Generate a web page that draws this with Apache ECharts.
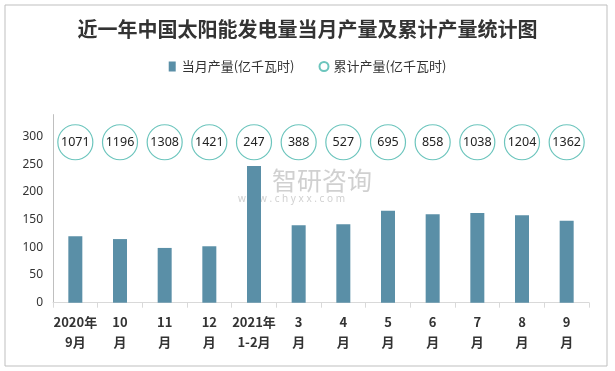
<!DOCTYPE html>
<html><head><meta charset="utf-8">
<script src="https://cdn.jsdelivr.net/npm/echarts@6/dist/echarts.min.js"></script>
<style>html,body{margin:0;padding:0;background:#fff}#c{width:615px;height:371px}</style>
</head><body><div id="c"></div>
<script>
const categories = ['2020年\n9月','10\n月','11\n月','12\n月','2021年\n1-2月','3\n月','4\n月','5\n月','6\n月','7\n月','8\n月','9\n月'];
const monthly = [120, 115, 99, 102, 247, 140, 142, 166, 160, 162, 158, 148];
const cumulative = [1071, 1196, 1308, 1421, 247, 388, 527, 695, 858, 1038, 1204, 1362];
const yTicks = [0, 50, 100, 150, 200, 250, 300];

const circleRow = 290;
const chart = echarts.init(document.getElementById('c'));
chart.setOption({
  backgroundColor: '#fff',
  animation: false,
  title: {
    text: '近一年中国太阳能发电量当月产量及累计产量统计图',
    left: 'center', top: 14,
    textStyle: {fontFamily: 'Noto Sans CJK SC', fontSize: 20, fontWeight: 'bold', color: '#333'}
  },
  legend: {
    top: 55, left: 'center', itemGap: 24, itemWidth: 9, itemHeight: 10,
    textStyle: {fontFamily: 'Noto Sans CJK SC', fontSize: 13, color: '#333'},
    data: [
      {name: '当月产量(亿千瓦时)', icon: 'path://M1,0H8V10H1Z'},
      {name: '累计产量(亿千瓦时)', icon: 'circle'}
    ]
  },
  grid: {left: 53, right: 26, top: 114.6, bottom: 68.3},
  xAxis: {
    type: 'category', data: categories, boundaryGap: true,
    axisLine: {lineStyle: {color: '#d9d9d9'}},
    axisTick: {show: true, length: 5, lineStyle: {color: '#d9d9d9'}},
    axisLabel: {interval: 0, fontFamily: 'Noto Sans CJK SC', fontSize: 13, fontWeight: 'bold', color: '#333', lineHeight: 20, margin: 9}
  },
  yAxis: {
    type: 'value', min: 0, max: 340, interval: 50,
    axisLine: {show: true, lineStyle: {color: '#bfbfbf'}},
    axisTick: {show: false},
    splitLine: {show: false},
    axisLabel: {showMaxLabel: false, fontFamily: 'Noto Sans', fontSize: 12, color: '#333', margin: 10,
      formatter: v => yTicks.includes(v) ? String(v) : ''}
  },
  graphic: [
    {type: 'rect', shape: {x: 5, y: 5, width: 602, height: 361}, style: {fill: 'none', stroke: '#bfbfbf', lineWidth: 1}, z: 100},
    {type: 'text', left: 272, top: 168, style: {text: '智研咨询', fontFamily: 'Noto Sans CJK SC', fontSize: 25, fill: 'rgba(170,170,170,0.55)'}, z: 0},
    {type: 'text', left: 238, top: 194, style: {text: 'w w w . c h y x x . c o m', fontFamily: 'Noto Sans', fontSize: 10, fill: 'rgba(170,170,170,0.55)'}, z: 0}
  ],
  series: [
    {
      name: '当月产量(亿千瓦时)', type: 'bar', data: monthly, barWidth: 14,
      itemStyle: {color: '#5a8fa7'}, z: 5
    },
    {
      name: '累计产量(亿千瓦时)', type: 'scatter',
      data: cumulative.map(() => circleRow),
      symbol: 'circle', symbolSize: 35,
      itemStyle: {color: '#fff', borderColor: '#6cc5bd', borderWidth: 1.2, opacity: 1},
      label: {show: true, position: 'inside', formatter: p => String(cumulative[p.dataIndex]),
        fontFamily: 'Noto Sans', fontSize: 12.5, color: '#222'},
      emphasis: {disabled: true}, z: 10
    }
  ]
});
</script></body></html>
